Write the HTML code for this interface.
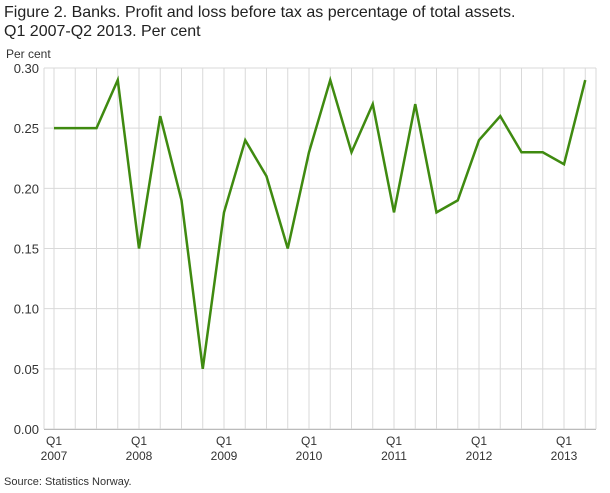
<!DOCTYPE html>
<html><head><style>
body{margin:0;background:#fff;width:610px;height:488px;overflow:hidden;font-family:"Liberation Sans",sans-serif;}
</style></head><body>
<svg width="610" height="488" xmlns="http://www.w3.org/2000/svg" font-family="Liberation Sans, sans-serif">
<text x="4" y="17" font-size="16" fill="#222">Figure 2. Banks. Profit and loss before tax as percentage of total assets.</text>
<text x="4" y="36" font-size="16" fill="#222">Q1 2007-Q2 2013. Per cent</text>
<text x="6" y="58" font-size="12" fill="#333">Per cent</text>
<g id="g"></g>
<text x="4" y="485" font-size="11" fill="#333">Source: Statistics Norway.</text>
</svg>
<script>
var ns="http://www.w3.org/2000/svg",g=document.getElementById("g");
function el(t,a,txt){var e=document.createElementNS(ns,t);for(var k in a)e.setAttribute(k,a[k]);if(txt)e.textContent=txt;g.appendChild(e);return e;}
var x0=54,dx=21.25,y0=429,ys=(429-68)/0.30;
for(var i=0;i<=6;i++){var y=y0-i*0.05*ys;el("line",{x1:44,x2:596,y1:y,y2:y,stroke:"#d9d9d9","stroke-width":1});
el("text",{x:39,y:y+5,"font-size":13,"text-anchor":"end",fill:"#333"},(i*0.05).toFixed(2));}
for(var i=0;i<26;i++){var x=x0+i*dx;el("line",{x1:x,x2:x,y1:68,y2:y0,stroke:"#d9d9d9","stroke-width":1});}
el("line",{x1:44,x2:44,y1:68,y2:y0,stroke:"#d9d9d9"});
el("line",{x1:596,x2:596,y1:68,y2:y0,stroke:"#d9d9d9"});
el("line",{x1:44,x2:596,y1:y0+0.5,y2:y0+0.5,stroke:"#bbb"});
for(var k=0;k<7;k++){var x=x0+k*4*dx;el("text",{x:x,y:445,"font-size":12,"text-anchor":"middle",fill:"#333"},"Q1");el("text",{x:x,y:460,"font-size":12,"text-anchor":"middle",fill:"#333"},String(2007+k));}
var d=[0.25,0.25,0.25,0.29,0.15,0.26,0.19,0.05,0.18,0.24,0.21,0.15,0.23,0.29,0.23,0.27,0.18,0.27,0.18,0.19,0.24,0.26,0.23,0.23,0.22,0.29];
el("polyline",{points:d.map(function(v,i){return (x0+i*dx)+","+(y0-v*ys)}).join(" "),fill:"none",stroke:"#3f8a10","stroke-width":2.5,"stroke-linejoin":"miter"});
</script>
</body></html>
